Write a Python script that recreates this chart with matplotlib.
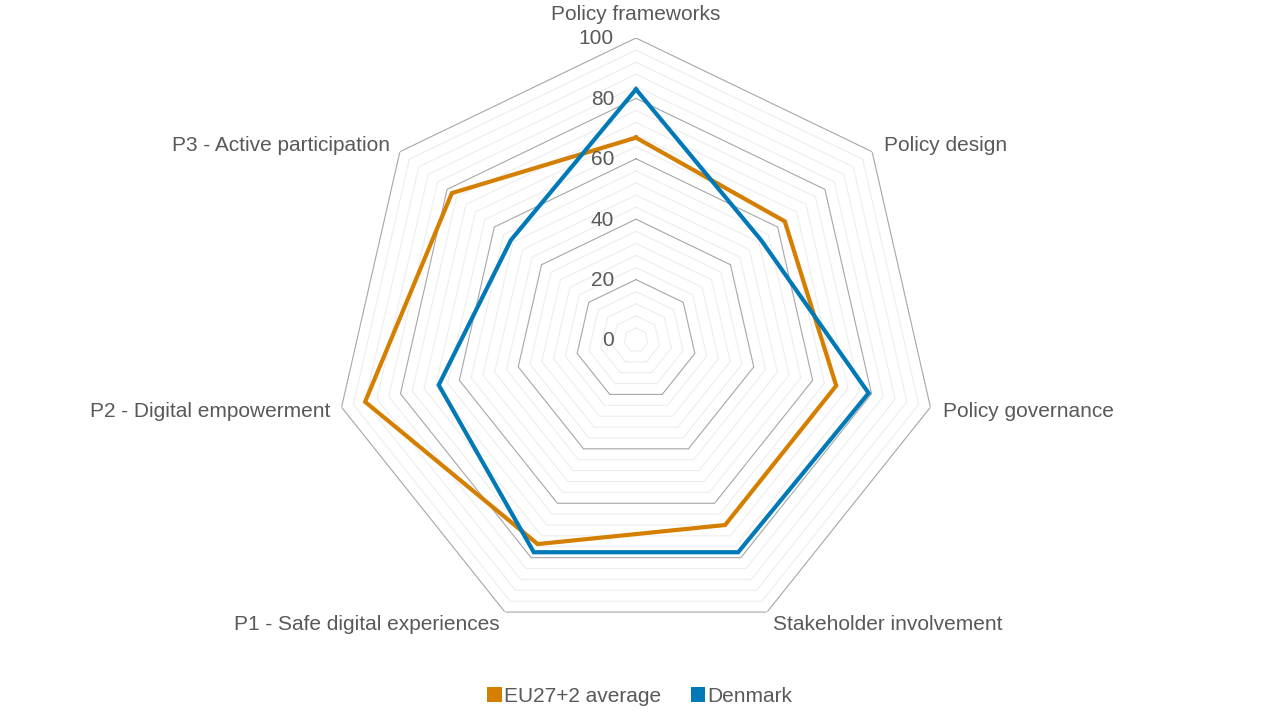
import numpy as np
import matplotlib
matplotlib.use("Agg")
import matplotlib.pyplot as plt
from matplotlib.patches import Patch

categories = ["Policy frameworks", "Policy design", "Policy governance",
              "Stakeholder involvement", "P1 - Safe digital experiences",
              "P2 - Digital empowerment", "P3 - Active participation"]
eu_avg = [67, 63, 68, 68, 75, 92, 78]
denmark = [83, 53, 79, 78, 78, 67, 53]
series_names = ["EU27+2 average", "Denmark"]
radial_ticks = [0, 20, 40, 60, 80, 100]

plt.rcParams['font.family'] = ['Liberation Sans', 'DejaVu Sans']
TXT = "#595959"
C_EU = "#D57F00"
C_DK = "#0079B6"
FS = 15

fig = plt.figure(figsize=(12.8, 7.2), dpi=100)
W, H = 1280, 720
cx, cy, R = 636, 340, 302
ax = fig.add_axes([(cx - R) / W, (H - cy - R) / H, 2 * R / W, 2 * R / H], projection='polar')
ax.set_theta_zero_location('N')
ax.set_theta_direction(-1)
ax.set_ylim(0, 100)
ax.grid(False)
ax.set_xticks([])
ax.set_yticks([])
ax.spines['polar'].set_visible(False)
ax.patch.set_visible(False)

n = len(categories)
ang = np.linspace(0, 2 * np.pi, n, endpoint=False)
ang_c = np.append(ang, ang[0])

# polygon grid
for r in range(4, 101, 4):
    major = (r % 20 == 0)
    ax.plot(ang_c, [r] * (n + 1), color="#A6A6A6" if major else "#EDEDED",
            lw=0.8, zorder=1 if major else 0.5, solid_joinstyle='miter')

def closed(v):
    return np.append(v, v[0])

ax.plot(ang_c, closed(eu_avg), color=C_EU, lw=3.0, zorder=3, solid_joinstyle='miter')
ax.plot(ang_c, closed(denmark), color=C_DK, lw=3.0, zorder=4, solid_joinstyle='miter')

# radial labels
for t in radial_ticks:
    ax.annotate(str(t), xy=(0, t), xytext=(-22, -1), textcoords='offset pixels',
                ha='right', va='center', fontsize=FS, color=TXT, annotation_clip=False)

# category labels
offsets = [((0, 24), 'center', 'center'),
           ((12, 6), 'left', 'center'),
           ((13, -4), 'left', 'center'),
           ((6, -12), 'left', 'center'),
           ((-5, -12), 'right', 'center'),
           ((-11, -4), 'right', 'center'),
           ((-10, 6), 'right', 'center')]
for a, lab, (off, ha, va) in zip(ang, categories, offsets):
    ax.annotate(lab, xy=(a, 100), xytext=off, textcoords='offset pixels',
                ha=ha, va=va, fontsize=FS, color=TXT, annotation_clip=False)

handles = [Patch(facecolor=C_EU, edgecolor='none'), Patch(facecolor=C_DK, edgecolor='none')]
leg = fig.legend(handles, series_names, loc='center', bbox_to_anchor=(0.5, (H - 696) / H),
                 ncol=2, frameon=False, fontsize=FS, handlelength=0.7, handleheight=0.7,
                 handletextpad=0.12, columnspacing=1.4)
for t in leg.get_texts():
    t.set_color(TXT)

fig.savefig("out.png", dpi=100)
